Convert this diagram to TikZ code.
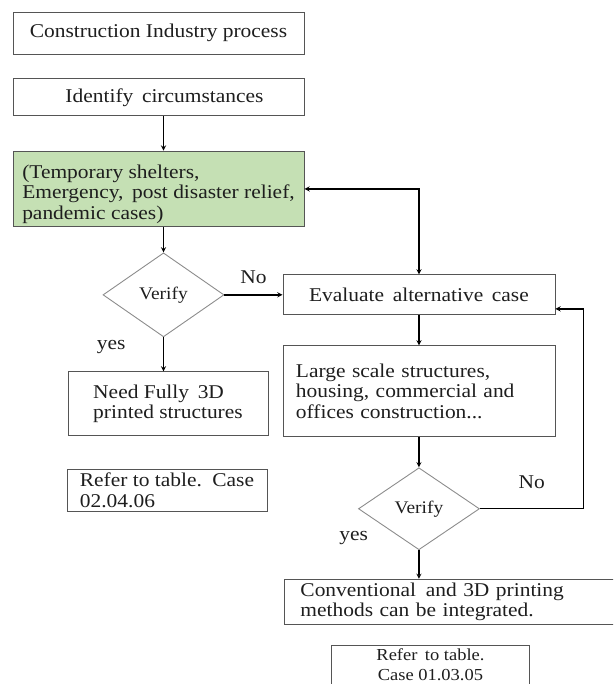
\documentclass[tikz,border=0pt]{standalone}
\usepackage{fontspec}
\setmainfont{Liberation Serif}[FakeStretch=1.1]
\usetikzlibrary{shapes.geometric, arrows, positioning}

\definecolor{shelgreen}{RGB}{197,224,180}
\definecolor{txtgray}{RGB}{30,30,30}
\definecolor{boxgray}{RGB}{85,85,85}
\definecolor{diagray}{RGB}{140,140,140}

\begin{document}
\begin{tikzpicture}[x=1pt, y=-1pt,
  process/.style={rectangle, draw=boxgray, line width=0.9pt, text=txtgray, font=\fontsize{19.5pt}{20.5pt}\selectfont},
  shelter/.style={process, fill=shelgreen, align=left},
  decision/.style={diamond, draw=diagray, line width=0.9pt, inner sep=0pt, minimum width=121pt, minimum height=84pt, text=txtgray, font=\fontsize{17.7pt}{19pt}\selectfont},
  answer/.style={text=txtgray, font=\fontsize{19.5pt}{20.5pt}\selectfont},
  arrow/.style={line width=1.3pt,->,>=stealth}]

  \clip (0,0) rectangle (613,684);

  % Nodes
  \node (construction) [process, minimum width=291pt, minimum height=42pt, align=center] at (158.5,33) {Construction Industry process};
  \node (identify) [process, below of=construction, yshift=-36pt, minimum width=291pt, minimum height=37pt, align=center] {\hspace{12pt}Identify\, circumstances};
  \node (shelters) [shelter, below of=identify, yshift=-63pt, minimum width=291pt, minimum height=74pt] {\rule{0pt}{24pt}(Temporary shelters, \\ Emergency,\, post disaster relief, \\ pandemic cases)};
  \node (verifyA) [decision, below of=shelters, yshift=-77.5pt, xshift=5pt] {Verify};
  \node (fully) [process, below of=verifyA, yshift=-80.5pt, xshift=4.5pt, minimum width=200pt, minimum height=64pt, align=left] {Need Fully\, 3D \\ printed structures};
  \node (referA) [process, below of=fully, yshift=-58pt, xshift=-1pt, minimum width=200pt, minimum height=42pt, align=left] {Refer to table.\, Case \\ 02.04.06};

  \node (evaluate) [process, right of=verifyA, xshift=227pt, minimum width=272pt, minimum height=40pt, align=center] {Evaluate\, alternative\, case};
  \node (large) [process, below of=evaluate, yshift=-68pt, text width=246pt, inner xsep=13pt, minimum height=91pt, align=left] {Large scale structures, \\ housing, commercial and \\ offices construction...};
  \node (verifyB) [decision, below of=large, yshift=-89pt, minimum height=82pt] {Verify};
  \node (conventional) [process, below of=verifyB, yshift=-64.5pt, xshift=36pt, text width=309pt, inner xsep=16pt, minimum height=44pt, align=left] {Conventional\, and 3D printing \\ methods can be integrated.};
  \node (referB) [process, below of=conventional, yshift=-35pt, xshift=-24.5pt, minimum width=198pt, minimum height=40pt, align=center, font=\fontsize{16.8pt}{20pt}\selectfont] {Refer\, to table. \\ Case 01.03.05};

  % Arrows
  \draw [arrow] (identify.south -| verifyA.north) -- (shelters.north -| verifyA.north);
  \draw [arrow] (shelters.south -| verifyA.north) -- (verifyA.north);
  \draw [arrow] (verifyA.east) -- node [answer, above=7pt] {No} (verifyA.east -| evaluate.west);
  \draw [arrow] (verifyA.south) -- node [answer, at start, left=34pt, yshift=-10pt] {yes} (verifyA.south |- fully.north);
  \draw [arrow, <->] (shelters.east) -| (evaluate.north);

  \draw [arrow] (evaluate.south) -- (large.north);
  \draw [arrow] (large.south) -- (verifyB.north);
  \draw [arrow] (verifyB.east) -| node [answer, pos=0.25, above=16pt] {No} ([xshift=28pt, yshift=-14pt]evaluate.east) -- ([yshift=-14pt]evaluate.east);
  \draw [arrow] (verifyB.south) -- node [answer, at start, left=47pt, yshift=12pt] {yes} (verifyB.south |- conventional.north);

\end{tikzpicture}
\end{document}
